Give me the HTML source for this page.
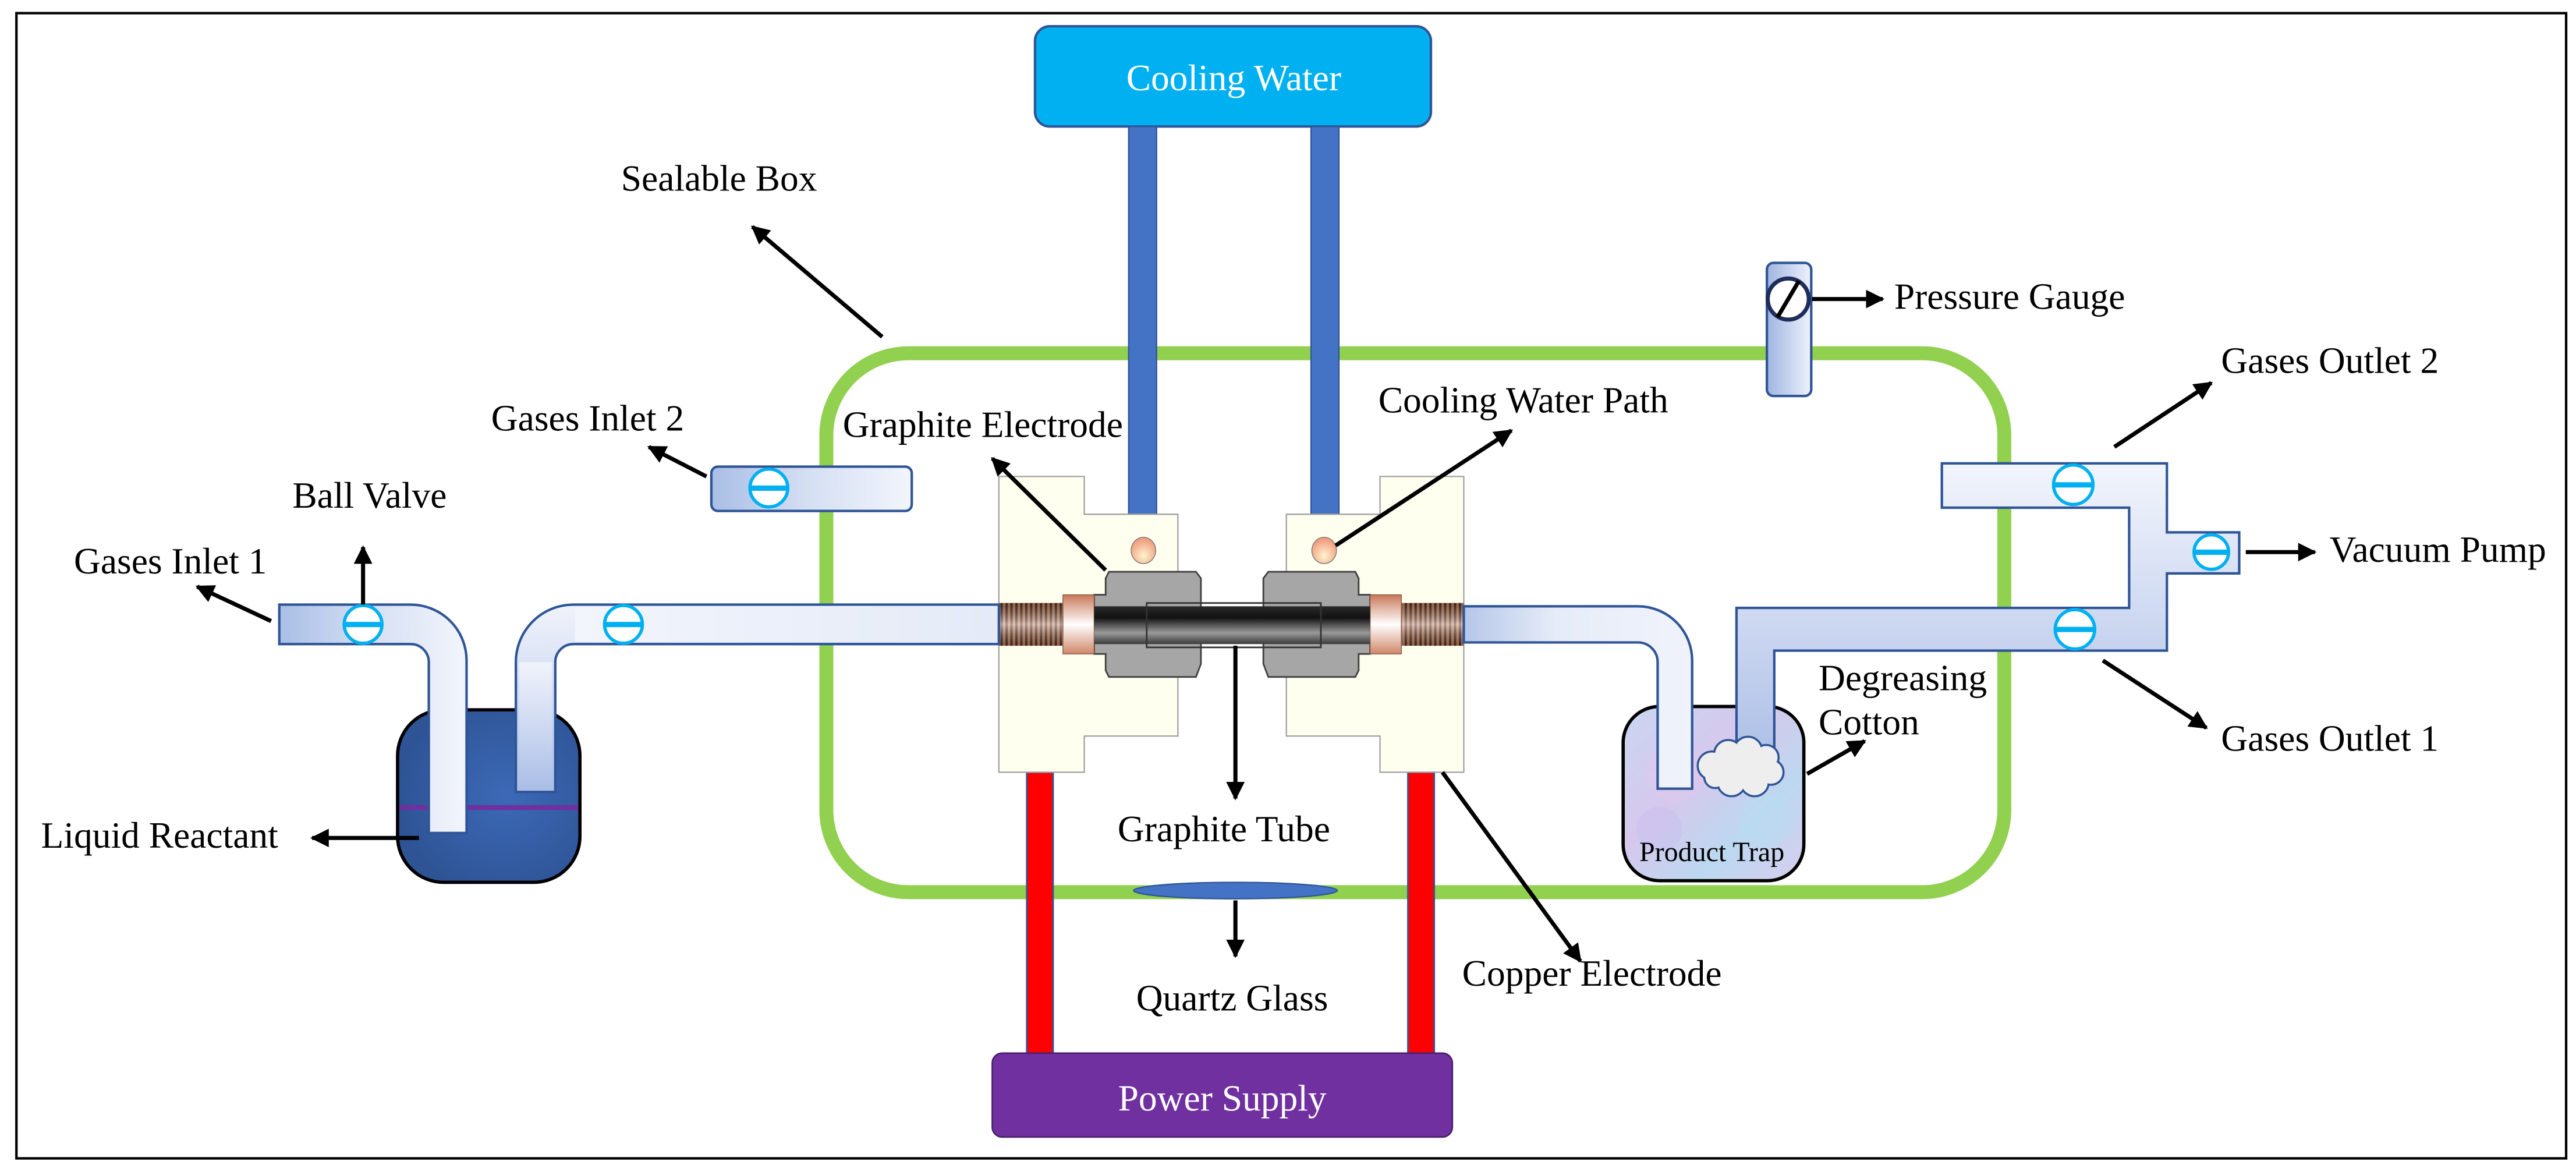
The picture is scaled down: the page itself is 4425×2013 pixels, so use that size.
<!DOCTYPE html>
<html><head><meta charset="utf-8"><style>
html,body{margin:0;padding:0;background:#fff;}
svg{display:block;}
</style></head><body>
<svg width="4425" height="2013" viewBox="0 0 1568 713.3" preserveAspectRatio="none" xmlns="http://www.w3.org/2000/svg" font-family="'Liberation Serif', 'Times New Roman', serif">
<defs>
<marker id="ah" viewBox="0 0 10 10" refX="9" refY="5" markerWidth="4.5" markerHeight="4.5" orient="auto"><path d="M0,0 L10,5 L0,10 Z" fill="#000"/></marker>
<linearGradient id="pipeH" x1="0" y1="0" x2="1" y2="0"><stop offset="0" stop-color="#a9bee6"/><stop offset="0.5" stop-color="#d6e0f3"/><stop offset="1" stop-color="#f2f5fc"/></linearGradient>
<linearGradient id="pipeH2" x1="0" y1="0" x2="1" y2="0"><stop offset="0" stop-color="#f2f5fc"/><stop offset="1" stop-color="#e4eaf7"/></linearGradient>
<linearGradient id="pipeV" x1="0" y1="0" x2="0" y2="1"><stop offset="0" stop-color="#f0f3fb"/><stop offset="0.6" stop-color="#c7d4ef"/><stop offset="1" stop-color="#aabde6"/></linearGradient>
<linearGradient id="pipeR" x1="0" y1="0" x2="1" y2="0"><stop offset="0" stop-color="#b4c6e8"/><stop offset="0.4" stop-color="#e6ecf8"/><stop offset="1" stop-color="#f0f3fb"/></linearGradient>
<linearGradient id="outG" x1="0" y1="0" x2="0" y2="1"><stop offset="0" stop-color="#f2f5fc"/><stop offset="1" stop-color="#aabde6"/></linearGradient>
<linearGradient id="rod" x1="0" y1="0" x2="0" y2="1"><stop offset="0" stop-color="#2a2a2a"/><stop offset="0.3" stop-color="#111"/><stop offset="0.7" stop-color="#9a9a9a"/><stop offset="1" stop-color="#3a3a3a"/></linearGradient>
<linearGradient id="cu" x1="0" y1="0" x2="0" y2="1"><stop offset="0" stop-color="#c9785a"/><stop offset="0.5" stop-color="#ffffff"/><stop offset="1" stop-color="#d0876a"/></linearGradient>
<pattern id="thr" width="3" height="10" patternUnits="userSpaceOnUse"><rect width="3" height="10" fill="#c98a68"/><rect width="1.4" height="10" fill="#5a3020"/></pattern>
<linearGradient id="thrShade" x1="0" y1="0" x2="0" y2="1"><stop offset="0" stop-color="#000" stop-opacity="0.3"/><stop offset="0.5" stop-color="#fff" stop-opacity="0.5"/><stop offset="1" stop-color="#000" stop-opacity="0.3"/></linearGradient>
<radialGradient id="dot" cx="0.5" cy="0.7" r="0.6"><stop offset="0" stop-color="#fff3d0"/><stop offset="1" stop-color="#f0a080"/></radialGradient>
<radialGradient id="bottle" cx="0.6" cy="0.5" r="0.6"><stop offset="0" stop-color="#3c69b7"/><stop offset="1" stop-color="#2e5495"/></radialGradient>
<linearGradient id="trap" x1="0" y1="0" x2="1" y2="1"><stop offset="0" stop-color="#c9d6f2"/><stop offset="0.4" stop-color="#d6c8ec"/><stop offset="0.7" stop-color="#bcd8f0"/><stop offset="1" stop-color="#d8cdee"/></linearGradient>
<linearGradient id="gauge" x1="0" y1="0" x2="1" y2="0"><stop offset="0" stop-color="#9fb5e2"/><stop offset="1" stop-color="#eef2fb"/></linearGradient>
</defs>

<rect x="10" y="8" width="1552" height="697" fill="#fff" stroke="#000" stroke-width="1.5"/>

<rect x="503" y="215" width="717" height="328" rx="50" ry="50" fill="none" stroke="#92d050" stroke-width="8.5"/>

<rect x="630" y="16" width="241" height="61" rx="9" fill="#00b0f0" stroke="#2f5597" stroke-width="1.5"/>
<text x="751" y="55" font-size="22.5" fill="#fff" text-anchor="middle">Cooling Water</text>
<rect x="687" y="77" width="17" height="249" fill="#4472c4" stroke="#2f5597" stroke-width="0.8"/>
<rect x="798" y="77" width="17" height="249" fill="#4472c4" stroke="#2f5597" stroke-width="0.8"/>

<rect x="625" y="470" width="16" height="172" fill="#ff0000" stroke="#2f5597" stroke-width="1"/>
<rect x="857" y="470" width="16" height="172" fill="#ff0000" stroke="#2f5597" stroke-width="1"/>

<rect x="604" y="641" width="280" height="51" rx="6" fill="#7030a0" stroke="#4b2070" stroke-width="1"/>
<text x="744" y="676" font-size="22.5" fill="#fff" text-anchor="middle">Power Supply</text>

<path d="M608,290 H660 V313 H717 V448 H660 V470 H608 Z" fill="#fffff0" stroke="#a0a0a0" stroke-width="0.8"/>
<path d="M891,290 H840 V313 H783 V448 H840 V470 H891 Z" fill="#fffff0" stroke="#a0a0a0" stroke-width="0.8"/>
<ellipse cx="696" cy="335" rx="7.5" ry="8" fill="url(#dot)" stroke="#777" stroke-width="0.5"/>
<ellipse cx="806" cy="335" rx="7.5" ry="8" fill="url(#dot)" stroke="#777" stroke-width="0.5"/>

<path d="M675,348 H728 L731,352 V404 L728,412 H675 L673,408 V398 H666 V362 H673 V352 Z" fill="#a6a6a6" stroke="#404040" stroke-width="1"/>
<path d="M772,348 H825 L827,352 V362 H834 V398 H827 V408 L825,412 H772 L769,404 V352 Z" fill="#a6a6a6" stroke="#404040" stroke-width="1"/>
<rect x="608" y="367" width="39" height="26" fill="url(#thr)"/>
<rect x="608" y="367" width="39" height="26" fill="url(#thrShade)"/>
<rect x="853" y="367" width="38" height="26" fill="url(#thr)"/>
<rect x="853" y="367" width="38" height="26" fill="url(#thrShade)"/>
<rect x="647" y="362" width="19" height="36" fill="url(#cu)" stroke="#8a5a40" stroke-width="0.5"/>
<rect x="834" y="362" width="19" height="36" fill="url(#cu)" stroke="#8a5a40" stroke-width="0.5"/>
<rect x="666" y="369" width="168" height="23" fill="url(#rod)"/>
<rect x="698" y="367" width="106" height="27" fill="none" stroke="#333" stroke-width="1"/>

<rect x="242" y="432" width="111" height="105" rx="28" fill="url(#bottle)" stroke="#000" stroke-width="2"/>
<rect x="243" y="490" width="109" height="3" fill="#7030a0"/>
<path d="M170,368 H250 A34,34 0 0 1 284,402 V507 H261 V403 A11,11 0 0 0 250,392 H170 Z" fill="url(#pipeH)" stroke="#2f5597" stroke-width="1.5"/>
<path d="M314,482 V403 A35,35 0 0 1 349,368 H608 V392 H349 A11,11 0 0 0 338,403 V482 Z" fill="url(#pipeV)" stroke="#2f5597" stroke-width="1.5"/>
<rect x="316" y="403" width="20" height="78" fill="url(#pipeV)"/>
<rect x="350" y="369.5" width="257" height="21" fill="url(#pipeH2)"/>

<rect x="433" y="284" width="122" height="27" rx="4" fill="url(#pipeH)" stroke="#2f5597" stroke-width="1.5"/>

<rect x="988" y="430" width="110" height="106" rx="22" fill="url(#trap)" stroke="#000" stroke-width="2"/>
<circle cx="1020" cy="470" r="18" fill="#e0c8ee" opacity="0.5"/>
<circle cx="1075" cy="500" r="16" fill="#b8dcf2" opacity="0.5"/>
<circle cx="1010" cy="505" r="14" fill="#c8c0f0" opacity="0.5"/>
<path d="M891,369 H997 A33,33 0 0 1 1030,402 V480 H1009 V403 A12,12 0 0 0 997,391 H891 Z" fill="url(#pipeR)" stroke="#2f5597" stroke-width="1.5"/>
<text x="1042" y="524" font-size="17" text-anchor="middle">Product Trap</text>

<path d="M1057,468 V370 H1296 V309 H1182 V282 H1319 V324 H1363 V349 H1319 V396 H1080 V468 Z" fill="url(#outG)" stroke="#2f5597" stroke-width="1.5"/>

<g stroke="#2f5597" stroke-width="2.5">
<circle cx="1042" cy="466" r="8"/><circle cx="1052" cy="459" r="8"/><circle cx="1064" cy="457" r="8"/><circle cx="1075" cy="461" r="7"/><circle cx="1078" cy="470" r="7"/><circle cx="1068" cy="476" r="8"/><circle cx="1054" cy="476" r="8"/><circle cx="1044" cy="473" r="6"/></g>
<g fill="#eeeeee">
<circle cx="1042" cy="466" r="8"/><circle cx="1052" cy="459" r="8"/><circle cx="1064" cy="457" r="8"/><circle cx="1075" cy="461" r="7"/><circle cx="1078" cy="470" r="7"/><circle cx="1068" cy="476" r="8"/><circle cx="1054" cy="476" r="8"/><circle cx="1044" cy="473" r="6"/><circle cx="1060" cy="467" r="12"/></g>

<g fill="#fff" stroke="#00b0f0" stroke-width="2">
<circle cx="221" cy="380" r="11.5"/><circle cx="379.5" cy="380" r="11.5"/><circle cx="468" cy="297" r="11.5"/>
<circle cx="1262" cy="295" r="12"/><circle cx="1263" cy="383" r="12"/><circle cx="1346" cy="336" r="10.5"/>
</g>
<g fill="#00b0f0">
<rect x="209.5" y="378.5" width="23" height="3.2"/><rect x="368" y="378.5" width="23" height="3.2"/><rect x="456.5" y="295.5" width="23" height="3.2"/>
<rect x="1250" y="293.5" width="24" height="3.2"/><rect x="1251" y="381.5" width="24" height="3.2"/><rect x="1335.5" y="334.5" width="21" height="3.2"/>
</g>

<ellipse cx="752" cy="542" rx="62" ry="5" fill="#4472c4" stroke="#2f5597" stroke-width="0.8"/>

<rect x="1075.5" y="160" width="27" height="81" rx="4" fill="url(#gauge)" stroke="#2f5597" stroke-width="1.5"/>
<circle cx="1088.5" cy="182" r="12.5" fill="#fff" stroke="#1f2d5a" stroke-width="2.5"/>
<line x1="1082" y1="193" x2="1095" y2="171" stroke="#000" stroke-width="2.5"/>

<g stroke="#000" stroke-width="2.5" fill="none" marker-end="url(#ah)">
<line x1="537" y1="205" x2="458" y2="138"/>
<line x1="430" y1="290" x2="395" y2="272"/>
<line x1="221" y1="368" x2="221" y2="333"/>
<line x1="165" y1="378" x2="120" y2="357"/>
<line x1="255" y1="510" x2="190" y2="510"/>
<line x1="673" y1="347" x2="604" y2="279"/>
<line x1="813" y1="332" x2="920" y2="262"/>
<line x1="752" y1="393" x2="752" y2="486"/>
<line x1="752" y1="548" x2="752" y2="582"/>
<line x1="878" y1="470" x2="962" y2="585"/>
<line x1="1103" y1="182" x2="1146" y2="182"/>
<line x1="1287" y1="272" x2="1346" y2="233"/>
<line x1="1367" y1="336" x2="1409" y2="336"/>
<line x1="1280" y1="402" x2="1343" y2="443"/>
<line x1="1100" y1="471" x2="1135" y2="451"/>
</g>

<g font-size="22.5" fill="#000">
<text x="378" y="116">Sealable Box</text>
<text x="299" y="262">Gases Inlet 2</text>
<text x="178" y="309">Ball Valve</text>
<text x="45" y="349">Gases Inlet 1</text>
<text x="25" y="516">Liquid Reactant</text>
<text x="513" y="266">Graphite Electrode</text>
<text x="839" y="251">Cooling Water Path</text>
<text x="745" y="512" text-anchor="middle">Graphite Tube</text>
<text x="750" y="615" text-anchor="middle">Quartz Glass</text>
<text x="890" y="600">Copper Electrode</text>
<text x="1153" y="188">Pressure Gauge</text>
<text x="1352" y="227">Gases Outlet 2</text>
<text x="1418" y="342">Vacuum Pump</text>
<text x="1352" y="457">Gases Outlet 1</text>
<text x="1107" y="420">Degreasing</text>
<text x="1107" y="447">Cotton</text>
</g>
</svg>
</body></html>
